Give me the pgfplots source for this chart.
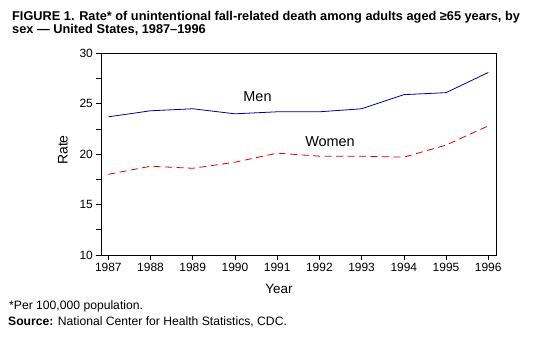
\documentclass[border=0pt]{standalone}
\usepackage{pgfplots}
\pgfplotsset{compat=1.18}
\usepackage{fontspec}
\setmainfont{Liberation Sans}
\definecolor{menblue}{RGB}{0,0,140}
\definecolor{womenred}{RGB}{220,0,0}
\begin{document}
\begin{tikzpicture}[x=1bp,y=1bp]
\useasboundingbox (0,0) rectangle (559,344);
\begin{axis}[
  at={(101.3bp,89bp)}, anchor=south west,
  scale only axis, width=395.4bp, height=201.7bp,
  xmin=1986.834, xmax=1996.2, ymin=10, ymax=30,
  xtick={1987,...,1996}, ytick={10,15,20,25,30},
  minor y tick num=1,
  xticklabel style={/pgf/number format/1000 sep={}},
  /pgf/number format/assume math mode=true,
  tick label style={font=\fontsize{12}{14}\selectfont},
  tick align=outside, major tick length=5bp, minor tick length=5bp,
  axis x line*=bottom, axis y line*=left,
  axis line style={line width=0.8pt},
  every tick/.style={black, line width=0.6pt},
  clip=false,
]
\addplot[menblue, line width=0.8pt] coordinates {
(1987,23.7) (1988,24.3) (1989,24.5) (1990,24.0) (1991,24.2) (1992,24.2) (1993,24.5) (1994,25.9) (1995,26.1) (1996,28.1)};
\addplot[womenred, line width=0.8pt, dash pattern=on 7bp off 4.5bp] coordinates {
(1987,18.0) (1988,18.8) (1989,18.6) (1990,19.2) (1991,20.1) (1992,19.8) (1993,19.8) (1994,19.7) (1995,20.9) (1996,22.8)};
\end{axis}
\draw[line width=0.8pt] (101.3,290.7) -- (496.7,290.7) -- (496.7,89);
\node[font=\fontsize{14.5}{16}\selectfont] at (257.5,247.3) {Men};
\node[font=\fontsize{14.5}{16}\selectfont] at (330,202.3) {Women};
\node[font=\fontsize{14}{16}\selectfont, rotate=90] at (63,194) {Rate};
\node[font=\fontsize{13.5}{15}\selectfont, anchor=base] at (279,51) {Year};
\node[font=\bfseries\fontsize{12.8}{14}\selectfont, anchor=base west, inner sep=0pt] at (12,324) {FIGURE 1. Rate* of unintentional fall-related death among adults aged ≥65 years, by};
\node[font=\bfseries\fontsize{12.8}{14}\selectfont, anchor=base west, inner sep=0pt] at (12,311) {sex — United States, 1987–1996};
\node[font=\fontsize{12.2}{14}\selectfont, anchor=base west, inner sep=0pt] at (9,35) {*Per 100,000 population.};
\node[font=\fontsize{12.2}{14}\selectfont, anchor=base west, inner sep=0pt] at (8,19) {\textbf{Source:} National Center for Health Statistics, CDC.};
\end{tikzpicture}
\end{document}
